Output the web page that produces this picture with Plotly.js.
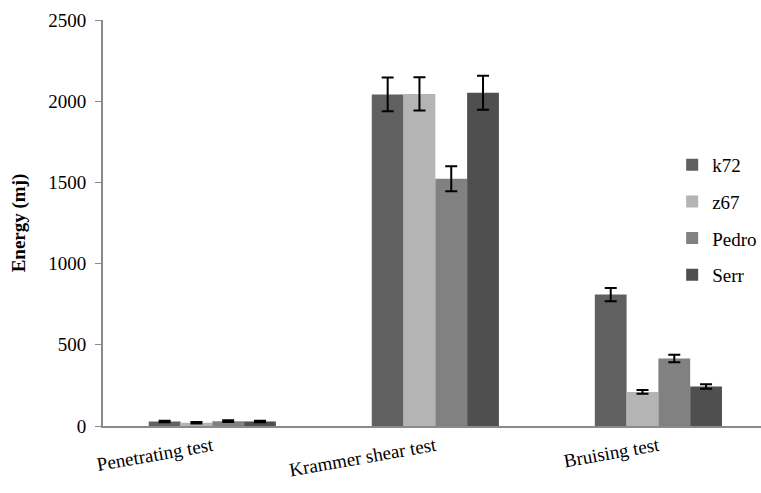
<!DOCTYPE html>
<html><head><meta charset="utf-8">
<script src="https://cdn.plot.ly/plotly-3.0.1.min.js"></script>
<style>html,body{margin:0;padding:0;background:#fff}#c{width:761px;height:493px}</style>
</head><body><div id="c"></div>
<script>
const categories = ["Penetrating test", "Krammer shear test", "Bruising test"];
const seriesNames = ["k72", "z67", "Pedro", "Serr"];
const k72 = [28, 2042, 809];
const z67 = [20, 2045, 210];
const pedro = [30, 1522, 416];
const serr = [28, 2052, 243];
const k72Err = [5, 104, 41];
const z67Err = [4, 102, 12];
const pedroErr = [5, 77, 23];
const serrErr = [5, 104, 14];
const colors = ["#606060", "#b4b4b4", "#818181", "#4f4f4f"];

const values = [k72, z67, pedro, serr];
const errs = [k72Err, z67Err, pedroErr, serrErr];
const serif = "'Liberation Serif', 'Times New Roman', serif";

const traces = seriesNames.map((n, i) => ({
  type: "bar", name: n, x: categories, y: values[i],
  legendgroup: n,
  marker: {color: colors[i], line: {width: 0}},
  error_y: {type: "data", array: errs[i], visible: true, color: "#000", thickness: 2, width: 6}
}));

const layout = {
  width: 761, height: 493,
  margin: {l: 103, r: 0, t: 20, b: 67, autoexpand: false},
  paper_bgcolor: "#fff", plot_bgcolor: "#fff",
  barmode: "group", bargap: 0.43, bargroupgap: 0,
  font: {family: serif, size: 19, color: "#000"},
  xaxis: {
    type: "category", range: [-0.49, 2.46],
    showline: true, linecolor: "#8a8a8a", linewidth: 2,
    ticks: "", tickangle: -10, tickfont: {family: serif, size: 19, color: "#000"},
    showgrid: false, zeroline: false
  },
  yaxis: {
    range: [0, 2500], tickvals: [0, 500, 1000, 1500, 2000, 2500],
    showline: true, linecolor: "#8a8a8a", linewidth: 2,
    ticks: "outside", ticklen: 6, tickcolor: "#8a8a8a", tickwidth: 1,
    ticklabelstandoff: 5,
    tickfont: {family: serif, size: 19, color: "#000"},
    showgrid: false, zeroline: false,
    title: {text: "<b>Energy (mj)</b>", font: {family: serif, size: 19, color: "#000"}, standoff: 18}
  },
  legend: {
    x: 0.865, y: 0.69, xanchor: "left", yanchor: "top",
    traceorder: "grouped", tracegroupgap: 9,
    font: {family: serif, size: 19, color: "#000"},
    bgcolor: "rgba(0,0,0,0)", itemwidth: 30
  },
  showlegend: true
};
Plotly.newPlot("c", traces, layout, {displayModeBar: false, staticPlot: true});
</script></body></html>
